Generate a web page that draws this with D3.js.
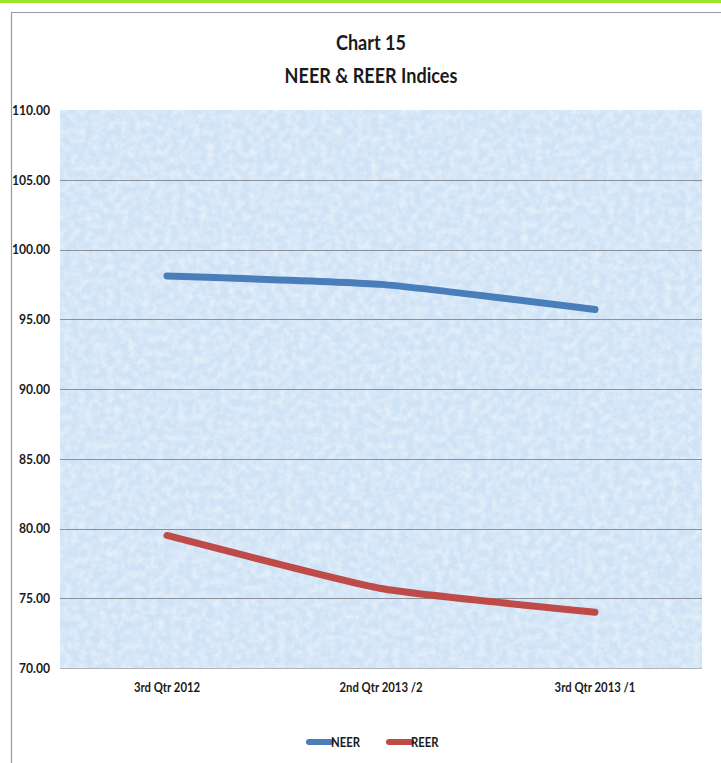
<!DOCTYPE html>
<html>
<head>
<meta charset="utf-8">
<script src="https://cdn.jsdelivr.net/npm/d3@7"></script>
<style>
  html, body { margin: 0; padding: 0; background: #ffffff; }
  svg { display: block; }
  text { font-family: Lato, "Open Sans", sans-serif; fill: #1a1a1a; }
</style>
</head>
<body>
<svg id="chart" width="721" height="763"></svg>
<script>
// Quarterly index values
const categories = ["3rd Qtr 2012", "2nd Qtr 2013 /2", "3rd Qtr 2013 /1"];
const neer = [98.1, 97.5, 95.7];
const reer = [79.5, 75.7, 74.0];
const yTicks = [70, 75, 80, 85, 90, 95, 100, 105, 110];
const seriesNames = ["NEER", "REER"];
const seriesColors = ["#4a7ebb", "#be4b48"];

const FONT = 'Lato, "Open Sans", sans-serif';
const svg = d3.select("#chart");
const W = 721, H = 763;
const plot = { left: 60, right: 702, top: 110, bottom: 668 };

// Page decoration: green top strip and the chart frame
svg.append("rect").attr("x", 0).attr("y", 0).attr("width", W).attr("height", 3).attr("fill", "#9ae62c");
svg.append("line").attr("x1", 11).attr("x2", W).attr("y1", 12.5).attr("y2", 12.5)
  .attr("stroke", "#9a9a9a").attr("stroke-width", 1.2);
svg.append("line").attr("x1", 11.5).attr("x2", 11.5).attr("y1", 12).attr("y2", H)
  .attr("stroke", "#9a9a9a").attr("stroke-width", 1.2);

// Titles (condensed bold)
svg.append("text").attr("transform", "translate(371,50) scale(0.86,1)").attr("text-anchor", "middle")
  .attr("font-size", 21).attr("font-weight", "bold").text("Chart 15");
svg.append("text").attr("transform", "translate(371,83) scale(0.86,1)").attr("text-anchor", "middle")
  .attr("font-size", 21).attr("font-weight", "bold").text("NEER & REER Indices");

// Scales
const x = d3.scaleBand().domain(categories).range([plot.left, plot.right]);
const y = d3.scaleLinear().domain([70, 110]).range([plot.bottom, plot.top]);

// Textured light-blue plot background
const defs = svg.append("defs");
const f = defs.append("filter").attr("id", "grain").attr("x", 0).attr("y", 0).attr("width", 1).attr("height", 1);
f.append("feTurbulence").attr("type", "fractalNoise").attr("baseFrequency", 0.14).attr("numOctaves", 3).attr("seed", 7).attr("result", "n");
f.append("feColorMatrix").attr("in", "n").attr("type", "matrix")
  .attr("values", "0 0 0 0 1  0 0 0 0 1  0 0 0 0 1  0 0 0 -1.8 1.15");
f.append("feComposite").attr("in2", "SourceGraphic").attr("operator", "in");

svg.append("rect").attr("x", plot.left).attr("y", plot.top)
  .attr("width", plot.right - plot.left).attr("height", plot.bottom - plot.top)
  .attr("fill", "#d0e3f6");
svg.append("rect").attr("x", plot.left).attr("y", plot.top)
  .attr("width", plot.right - plot.left).attr("height", plot.bottom - plot.top)
  .attr("fill", "#ffffff").attr("opacity", 0.5).attr("filter", "url(#grain)");

// Horizontal gridlines
svg.append("g").selectAll("line").data(yTicks.filter(t => t > 70 && t < 110)).join("line")
  .attr("x1", plot.left).attr("x2", plot.right)
  .attr("y1", d => Math.round(y(d)) + 0.5).attr("y2", d => Math.round(y(d)) + 0.5)
  .attr("stroke", "#8c9199").attr("stroke-width", 1);
svg.append("line").attr("x1", plot.left).attr("x2", plot.right)
  .attr("y1", plot.bottom + 0.5).attr("y2", plot.bottom + 0.5)
  .attr("stroke", "#b0b4ba").attr("stroke-width", 1);

// Y axis labels
const yAxis = d3.axisLeft(y).tickValues(yTicks).tickFormat(d3.format(".2f")).tickSize(0).tickPadding(0);
const ya = svg.append("g").attr("transform", `translate(50,0)`).call(yAxis);
ya.select(".domain").remove();
ya.selectAll("text").attr("font-size", 13.5).attr("font-weight", "bold")
  .attr("transform", "scale(0.9,1)")
  .style("font-family", FONT).attr("fill", "#1a1a1a");

// X axis labels
const xAxis = d3.axisBottom(x).tickSize(0).tickPadding(0);
const xa = svg.append("g").attr("transform", `translate(0,${plot.bottom + 14})`).call(xAxis);
xa.select(".domain").remove();
xa.selectAll("text").attr("font-size", 13.5).attr("font-weight", "bold")
  .attr("transform", "scale(0.84,1)")
  .style("font-family", FONT).attr("fill", "#1a1a1a");

// Smoothed series lines
const line = d3.line()
  .x((d, i) => x(categories[i]) + x.bandwidth() / 2)
  .y(d => y(d))
  .curve(d3.curveCardinal.tension(0.55));

[neer, reer].forEach((vals, k) => {
  svg.append("path").datum(vals).attr("d", line)
    .attr("fill", "none").attr("stroke", seriesColors[k])
    .attr("stroke-width", 7).attr("stroke-linecap", "round").attr("stroke-linejoin", "round");
});

// Legend
const legendX = [307, 387];
seriesNames.forEach((name, k) => {
  const g = svg.append("g").attr("transform", `translate(${legendX[k]},742)`);
  g.append("line").attr("x1", 2).attr("x2", 24).attr("y1", 0).attr("y2", 0)
    .attr("stroke", seriesColors[k]).attr("stroke-width", 6).attr("stroke-linecap", "round");
  g.append("text").attr("transform", "translate(24,5) scale(0.84,1)")
    .attr("font-size", 13.5).attr("font-weight", "bold").text(name);
});
</script>
</body>
</html>
